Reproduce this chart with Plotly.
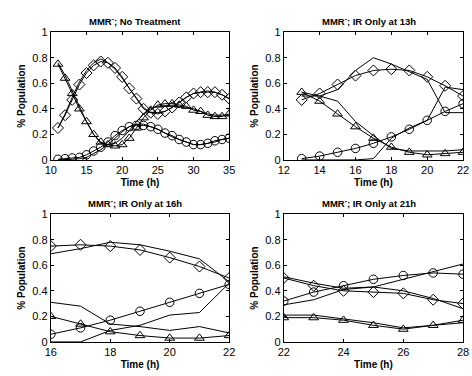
import plotly.graph_objects as go

# ---------------- data ----------------
# Panel 1: MMR-; No Treatment
t1 = list(range(11, 36))
p1_diamond = [0.25, 0.35, 0.47, 0.59, 0.68, 0.74, 0.77, 0.76, 0.72, 0.65, 0.56, 0.48, 0.40,
              0.37, 0.36, 0.38, 0.41, 0.45, 0.49, 0.52, 0.53, 0.53, 0.53, 0.51, 0.48]
p1_diamond_fit = [0.25, 0.36, 0.49, 0.61, 0.70, 0.76, 0.79, 0.76, 0.71, 0.64, 0.56, 0.48, 0.41,
                  0.37, 0.37, 0.38, 0.41, 0.45, 0.49, 0.52, 0.53, 0.54, 0.53, 0.51, 0.48]
p1_triangle = [0.75, 0.64, 0.52, 0.40, 0.30, 0.20, 0.14, 0.12, 0.11, 0.12, 0.17, 0.25, 0.33,
               0.39, 0.43, 0.44, 0.44, 0.43, 0.42, 0.39, 0.38, 0.35, 0.34, 0.34, 0.36]
p1_triangle_fit = [0.76, 0.66, 0.54, 0.42, 0.30, 0.20, 0.13, 0.12, 0.13, 0.17, 0.23, 0.30, 0.36,
                   0.40, 0.42, 0.42, 0.42, 0.42, 0.41, 0.40, 0.38, 0.36, 0.35, 0.35, 0.35]
p1_circle = [0.005, 0.01, 0.015, 0.02, 0.04, 0.07, 0.10, 0.14, 0.19, 0.23, 0.26, 0.27, 0.27,
             0.26, 0.24, 0.21, 0.19, 0.16, 0.14, 0.12, 0.12, 0.13, 0.15, 0.16, 0.17]
p1_circle_fit = [0.0, 0.0, 0.005, 0.01, 0.02, 0.05, 0.08, 0.12, 0.17, 0.22, 0.26, 0.28, 0.28,
                 0.26, 0.24, 0.21, 0.18, 0.16, 0.14, 0.12, 0.12, 0.13, 0.14, 0.16, 0.17]

# Panel 2: MMR-; IR Only at 13h
t2 = list(range(13, 23))
p2_diamond = [0.47, 0.52, 0.59, 0.66, 0.70, 0.71, 0.70, 0.65, 0.58, 0.50]
p2_diamond_fit = [0.50, 0.50, 0.55, 0.70, 0.80, 0.75, 0.69, 0.63, 0.37, 0.37]
p2_triangle = [0.53, 0.46, 0.36, 0.26, 0.17, 0.10, 0.06, 0.04, 0.05, 0.06]
p2_triangle_fit = [0.53, 0.50, 0.46, 0.30, 0.19, 0.09, 0.07, 0.07, 0.07, 0.08]
p2_circle = [0.01, 0.03, 0.06, 0.09, 0.13, 0.18, 0.24, 0.31, 0.38, 0.44]
p2_circle_fit = [0.0, 0.0, 0.0, 0.0, 0.01, 0.17, 0.25, 0.31, 0.57, 0.55]

# Panel 3: MMR-; IR Only at 16h
t3 = list(range(16, 23))
p3_diamond = [0.75, 0.76, 0.75, 0.72, 0.66, 0.59, 0.50]
p3_diamond_fit = [0.69, 0.73, 0.78, 0.76, 0.71, 0.65, 0.47]
p3_triangle = [0.20, 0.14, 0.08, 0.05, 0.03, 0.03, 0.05]
p3_triangle_fit = [0.31, 0.28, 0.14, 0.12, 0.09, 0.12, 0.07]
p3_circle = [0.06, 0.11, 0.17, 0.24, 0.31, 0.38, 0.45]
p3_circle_fit = [0.0, 0.0, 0.09, 0.13, 0.21, 0.23, 0.46]

# Panel 4: MMR-; IR Only at 21h
t4 = list(range(22, 29))
p4_diamond = [0.50, 0.44, 0.40, 0.39, 0.38, 0.33, 0.30]
p4_diamond_fit = [0.51, 0.46, 0.42, 0.43, 0.40, 0.34, 0.26]
p4_triangle = [0.19, 0.19, 0.17, 0.13, 0.10, 0.13, 0.17]
p4_triangle_fit = [0.21, 0.21, 0.18, 0.15, 0.11, 0.13, 0.15]
p4_circle = [0.32, 0.39, 0.44, 0.49, 0.52, 0.54, 0.53]
p4_circle_fit = [0.29, 0.33, 0.41, 0.43, 0.49, 0.55, 0.61]

titles = ["MMR<sup>-</sup>; No Treatment", "MMR<sup>-</sup>; IR Only at 13h",
          "MMR<sup>-</sup>; IR Only at 16h", "MMR<sup>-</sup>; IR Only at 21h"]
x_ranges = [[10, 35], [12, 22], [16, 22], [22, 28]]
x_ticks = [[10, 15, 20, 25, 30, 35], [12, 14, 16, 18, 20, 22], [16, 18, 20, 22], [22, 24, 26, 28]]
y_ticks = [0, 0.2, 0.4, 0.6, 0.8, 1]
y_ticktext = ["0", "0.2", "0.4", "0.6", "0.8", "1"]

panels = [
    (t1, [(p1_diamond, p1_diamond_fit, "diamond-open"), (p1_triangle, p1_triangle_fit, "triangle-up-open"), (p1_circle, p1_circle_fit, "circle-open")]),
    (t2, [(p2_diamond, p2_diamond_fit, "diamond-open"), (p2_triangle, p2_triangle_fit, "triangle-up-open"), (p2_circle, p2_circle_fit, "circle-open")]),
    (t3, [(p3_diamond, p3_diamond_fit, "diamond-open"), (p3_triangle, p3_triangle_fit, "triangle-up-open"), (p3_circle, p3_circle_fit, "circle-open")]),
    (t4, [(p4_diamond, p4_diamond_fit, "diamond-open"), (p4_triangle, p4_triangle_fit, "triangle-up-open"), (p4_circle, p4_circle_fit, "circle-open")]),
]

W, H = 472, 376
# plot-area pixel boxes (left, right, top, bottom)
boxes = [(46, 229, 27, 159), (285, 469, 27, 159), (46, 229, 215, 347), (285, 469, 215, 347)]

FONT = "Liberation Sans, Arial, sans-serif"
fig = go.Figure()

for i, (t, series) in enumerate(panels):
    xa = "x" if i == 0 else f"x{i+1}"
    ya = "y" if i == 0 else f"y{i+1}"
    for data, fit, sym in series:
        fig.add_trace(go.Scatter(x=t, y=fit, mode="lines", xaxis=xa, yaxis=ya,
                                 line=dict(color="black", width=1), showlegend=False))
        fig.add_trace(go.Scatter(x=t, y=data, mode="lines+markers", xaxis=xa, yaxis=ya,
                                 line=dict(color="black", width=1),
                                 marker=dict(symbol=sym, size=8.5, color="black",
                                             line=dict(width=1, color="black")),
                                 showlegend=False))

layout = dict(width=W, height=H, margin=dict(l=0, r=0, t=0, b=0),
              paper_bgcolor="white", plot_bgcolor="white", showlegend=False,
              font=dict(family=FONT, color="black"))
annotations = []
for i, (l, r, tp, bt) in enumerate(boxes):
    xkey = "xaxis" if i == 0 else f"xaxis{i+1}"
    ykey = "yaxis" if i == 0 else f"yaxis{i+1}"
    yanchor = "y" if i == 0 else f"y{i+1}"
    xanchor = "x" if i == 0 else f"x{i+1}"
    common = dict(showline=True, linecolor="black", linewidth=1, mirror="allticks",
                  ticks="inside", ticklen=3, tickcolor="black", showgrid=False,
                  zeroline=False, tickfont=dict(size=11, family=FONT, color="black"))
    layout[xkey] = dict(domain=[l / W, r / W], anchor=yanchor, range=x_ranges[i],
                        tickvals=x_ticks[i], ticktext=[str(v) for v in x_ticks[i]],
                        title=dict(text="<b>Time (h)</b>", font=dict(size=10, family=FONT), standoff=3),
                        **common)
    layout[ykey] = dict(domain=[1 - bt / H, 1 - tp / H], anchor=xanchor, range=[0, 1],
                        tickvals=y_ticks, ticktext=y_ticktext,
                        title=dict(text="<b>% Population</b>", font=dict(size=10, family=FONT), standoff=4),
                        **common)
    annotations.append(dict(text="<b>" + titles[i] + "</b>", x=(l + r) / 2 / W - 0.01, y=1 - (tp - 12) / H,
                            xref="paper", yref="paper", showarrow=False,
                            xanchor="center", yanchor="middle",
                            font=dict(size=9.5, family=FONT, color="black")))
layout["annotations"] = annotations
fig.update_layout(**layout)
fig.write_html("out.html", config={"displayModeBar": False},
               post_script="document.body.style.margin='0';document.body.style.overflow='hidden';")
